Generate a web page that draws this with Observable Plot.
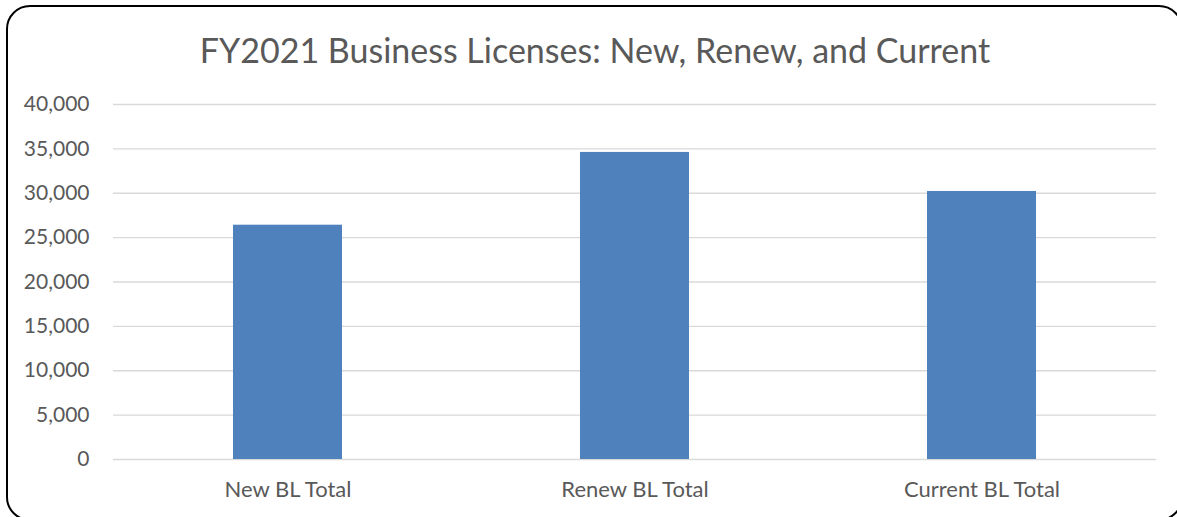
<!DOCTYPE html>
<html>
<head>
<meta charset="utf-8">
<script src="https://cdn.jsdelivr.net/npm/d3@7"></script>
<script src="https://cdn.jsdelivr.net/npm/@observablehq/plot@0.6"></script>
<style>
  html, body { margin: 0; padding: 0; background: #fff; overflow: hidden; }
  #wrap { position: relative; width: 1177px; height: 517px; overflow: hidden; font-family: Lato, "Open Sans", sans-serif; }
  #frame { position: absolute; left: 6px; top: 5px; width: 1177px; height: 516px; border: 2px solid #000; border-radius: 24px; box-sizing: border-box; }
  #title { position: absolute; left: 0; top: 0; width: 1190px; height: 80px; text-align: center; font-size: 34px; line-height: 100px; color: #595959; }
  #chart { position: absolute; left: 0; top: 80px; }
</style>
</head>
<body>
<div id="wrap">
  <div id="frame"></div>
  <div id="title">FY2021 Business Licenses: New, Renew, and Current</div>
  <div id="chart"></div>
</div>
<script>
const categories = ["New BL Total", "Renew BL Total", "Current BL Total"];
const values = [26400, 34600, 30200];
const yTicks = [0, 5000, 10000, 15000, 20000, 25000, 30000, 35000, 40000];

const data = categories.map((c, i) => ({category: c, value: values[i]}));

const chart = Plot.plot({
  width: 1177,
  height: 437,
  marginTop: 24,
  marginBottom: 58,
  marginLeft: 113,
  marginRight: 21,
  style: {fontFamily: "Lato, 'Open Sans', sans-serif", background: "transparent"},
  x: {domain: categories, paddingInner: 0.6865, paddingOuter: 0.34325, label: null},
  y: {domain: [0, 40000], ticks: yTicks, label: null},
  marks: [
    Plot.gridY(yTicks, {stroke: "#d9d9d9", strokeOpacity: 1, strokeWidth: 1.4}),
    Plot.barY(data, {x: "category", y: "value", fill: "#4f81bd"}),
    Plot.axisY(yTicks, {tickSize: 0, tickPadding: 24, fontSize: 21, fill: "#595959", label: null,
      tickFormat: d => d3.format(",")(d)}),
    Plot.axisX({tickSize: 0, tickPadding: 22, fontSize: 22, fill: "#595959", label: null})
  ]
});
document.getElementById("chart").appendChild(chart);
</script>
</body>
</html>
